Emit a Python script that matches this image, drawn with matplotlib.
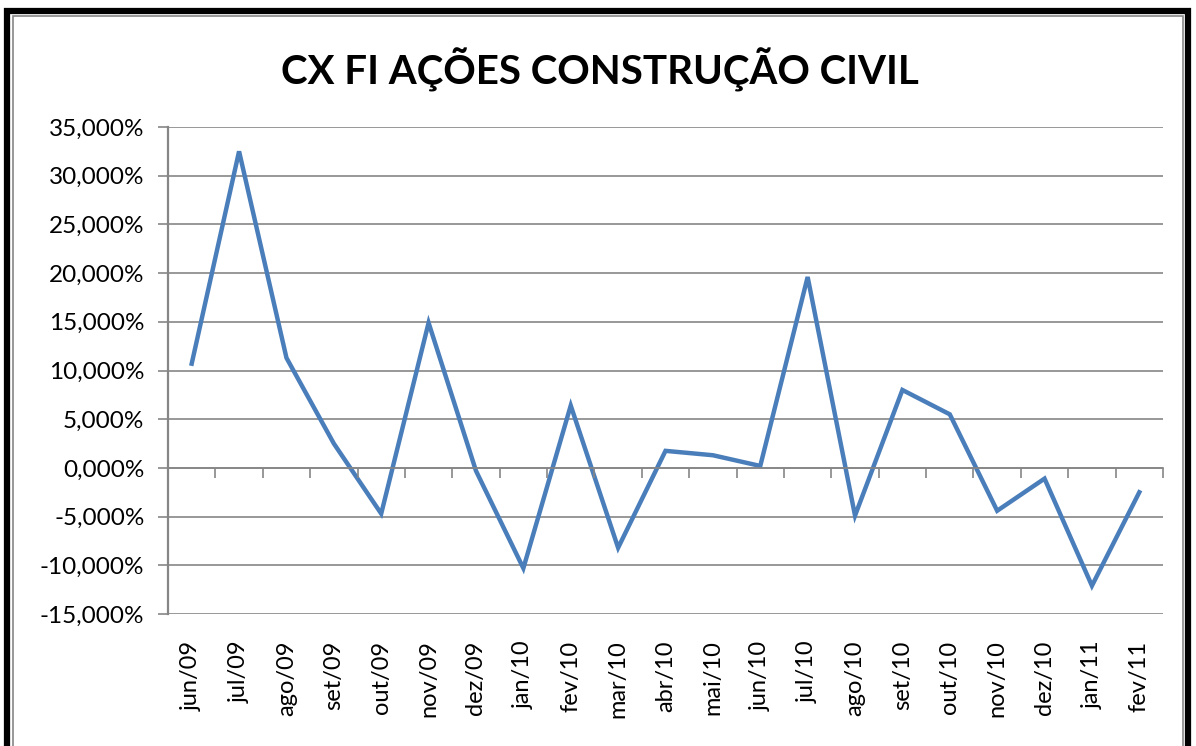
#!/usr/bin/env python3
"""CX FI Ações Construção Civil - monthly returns line chart."""

import matplotlib

matplotlib.use("Agg")

import matplotlib.pyplot as plt
from matplotlib.patches import Rectangle
from matplotlib.ticker import FuncFormatter

MONTHS = [
    "jun/09", "jul/09", "ago/09", "set/09", "out/09", "nov/09", "dez/09",
    "jan/10", "fev/10", "mar/10", "abr/10", "mai/10", "jun/10", "jul/10",
    "ago/10", "set/10", "out/10", "nov/10", "dez/10", "jan/11", "fev/11",
]
RETURNS = [
    10.7, 32.5, 11.3, 2.5, -4.7, 14.9, -0.3,
    -10.3, 6.4, -8.2, 1.75, 1.3, 0.2, 19.6,
    -4.9, 8.0, 5.5, -4.4, -1.1, -12.1, -2.5,
]
Y_TICKS = [-15, -10, -5, 0, 5, 10, 15, 20, 25, 30, 35]

COLORS = {
    "line": "#4a7ebb",
    "grid": "#868686",
    "ink": "#000000",
}

W, H = 1196, 746

plt.rcParams["font.family"] = ["Lato", "DejaVu Sans"]

fig = plt.figure(figsize=(W / 100, H / 100), dpi=100)
ax = fig.add_axes([168 / W, 1 - 614 / H, (1163 - 168) / W, (614 - 127) / H])

n = len(MONTHS)
xs = list(range(n))
ax.plot(xs, RETURNS, color=COLORS["line"], lw=3.2, solid_joinstyle="miter", zorder=3)

ax.set_xlim(-0.5, n - 0.5)
ax.set_ylim(Y_TICKS[0], Y_TICKS[-1])
ax.set_yticks(Y_TICKS)
ax.yaxis.set_major_formatter(FuncFormatter(lambda v, _: f"{v:.3f}%".replace(".", ",")))
ax.grid(axis="y", color=COLORS["grid"], lw=1.2)
ax.tick_params(axis="y", length=7, width=1.2, color=COLORS["grid"], pad=10, labelsize=17.5)

ax.set_xticks(xs)
ax.set_xticklabels(MONTHS, rotation=90, va="top", ha="center")
ax.tick_params(axis="x", length=0, pad=19, labelsize=17)

for side in ["top", "right", "bottom"]:
    ax.spines[side].set_visible(False)
ax.spines["left"].set_color(COLORS["grid"])
ax.spines["left"].set_linewidth(1.6)

# category axis crossing at zero, with tick marks between categories
ax2 = ax.twiny()
ax2.set_xlim(ax.get_xlim())
for side in ["top", "right", "left"]:
    ax2.spines[side].set_visible(False)
ax2.spines["bottom"].set_position(("data", 0))
ax2.spines["bottom"].set_color(COLORS["grid"])
ax2.spines["bottom"].set_linewidth(1.2)
ax2.xaxis.set_ticks_position("bottom")
ax2.set_xticks([i - 0.5 for i in range(n + 1)])
ax2.set_xticklabels([])
ax2.tick_params(axis="x", length=7, width=1.2, color=COLORS["grid"], direction="out")

fig.text(600 / W, 1 - 70 / H, "CX FI AÇÕES CONSTRUÇÃO CIVIL", ha="center", va="center",
         fontsize=29, fontweight="bold")

# chart frame: thick black outer line and thin gray inner line
fig.patches.append(Rectangle((7 / W, -0.2), (1188 - 7) / W, 1.2 - 11 / H,
                             transform=fig.transFigure, fill=False,
                             edgecolor=COLORS["ink"], lw=4.5))
fig.patches.append(Rectangle((12.5 / W, -0.2), (1183 - 12.5) / W, 1.2 - 15.5 / H,
                             transform=fig.transFigure, fill=False,
                             edgecolor=COLORS["grid"], lw=1.2))

fig.savefig("out.png", dpi=100)
